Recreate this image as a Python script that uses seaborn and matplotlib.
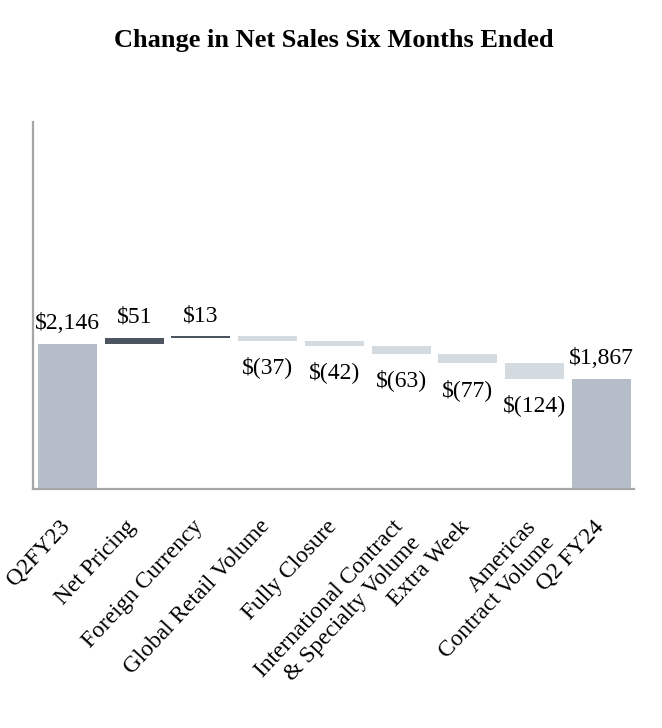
import matplotlib
matplotlib.use("Agg")
import matplotlib.pyplot as plt
import matplotlib.transforms as mtransforms
import seaborn as sns
import numpy as np
import pandas as pd

# ---- data ----
categories = ["Q2FY23", "Net Pricing", "Foreign Currency", "Global Retail Volume",
              "Fully Closure", "International Contract\n& Specialty Volume",
              "Extra Week", "Americas\nContract Volume", "Q2 FY24"]
values = [2146, 51, 13, -37, -42, -63, -77, -124, 1867]
kinds = ["total", "change", "change", "change", "change", "change", "change", "change", "total"]
value_labels = ["$2,146", "$51", "$13", "$(37)", "$(42)", "$(63)", "$(77)", "$(124)", "$1,867"]

# ---- waterfall geometry derived from data ----
bottoms, heights = [], []
running = 0
for v, k in zip(values, kinds):
    if k == "total":
        bottoms.append(0)
        heights.append(v)
        running = v
    else:
        bottoms.append(min(running, running + v))
        heights.append(abs(v))
        running += v

col_total = "#b5bec8"
col_up = "#4d5660"
col_down = "#d3dbe0"
colors = [col_total if k == "total" else (col_up if v > 0 else col_down)
          for v, k in zip(values, kinds)]

df = pd.DataFrame({"category": categories, "height": heights})

sns.set_theme(style="white")
plt.rcParams["font.family"] = ["Liberation Serif", "DejaVu Serif"]

fig = plt.figure(figsize=(6.62, 7.28), dpi=100)
ax = fig.add_axes([0.0503, 0.3283, 0.9074, 0.5037])

sns.barplot(data=df, x="category", y="height", order=categories,
            width=0.885, color=col_total, ax=ax, saturation=1)

for patch, b, c in zip(ax.patches, bottoms, colors):
    patch.set_y(b)
    patch.set_facecolor(c)
    patch.set_edgecolor("none")
    patch.set_linewidth(0)

ax.set_ylim(985, 3920)
ax.set_xlim(-0.513, 8.49)

# value labels
for i, (b, h, v, k, lab) in enumerate(zip(bottoms, heights, values, kinds, value_labels)):
    if k == "total" or v > 0:
        ax.annotate(lab, (i, b + h), xytext=(0, 10.5), textcoords="offset points",
                    ha="center", va="baseline", fontsize=17, color="black")
    else:
        ax.annotate(lab, (i, b), xytext=(0, -11), textcoords="offset points",
                    ha="center", va="top", fontsize=17, color="black")

ax.set_xlabel("")
ax.set_ylabel("")
ax.set_yticks([])
ax.set_xticks(range(len(categories)))
ax.set_xticklabels(categories, rotation=47, ha="right", va="top",
                   rotation_mode="anchor", fontsize=16.8, color="black")
ax.tick_params(axis="x", length=0, pad=18)
shift = mtransforms.ScaledTranslation(-0.09, -0.02, fig.dpi_scale_trans)
for lbl in ax.get_xticklabels():
    lbl.set_transform(lbl.get_transform() + shift)

for s in ["top", "right"]:
    ax.spines[s].set_visible(False)
for s in ["left", "bottom"]:
    ax.spines[s].set_color("#a6a6a6")
    ax.spines[s].set_linewidth(1.6)

fig.text(334 / 662, 1 - 29 / 728, "Change in Net Sales Six Months Ended",
         ha="center", va="top", fontsize=19, fontweight="bold", color="black")

fig.savefig("out.png", dpi=100)
